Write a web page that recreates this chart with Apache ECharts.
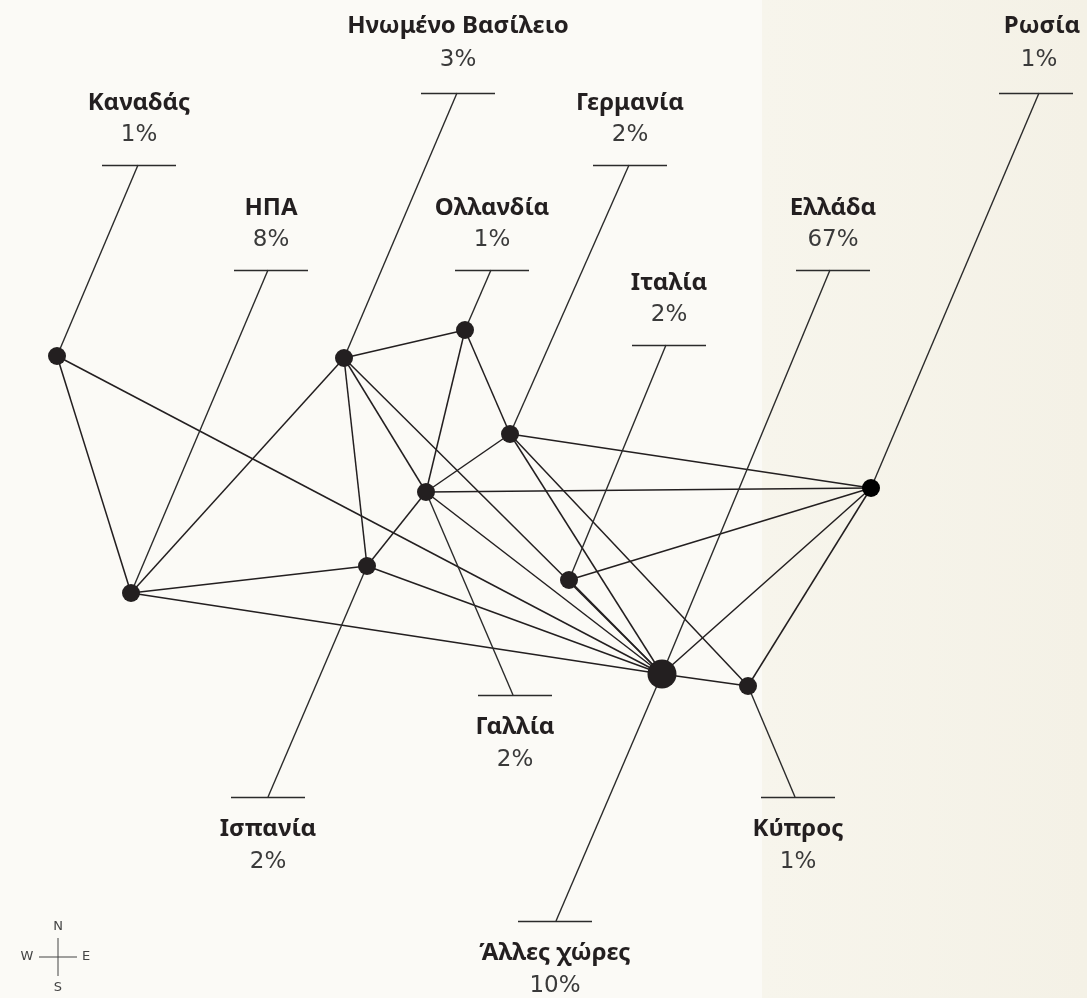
<!DOCTYPE html>
<html>
<head>
    <meta charset="utf-8">
    <title>network</title>
    <script src="https://cdn.jsdelivr.net/npm/echarts@6/dist/echarts.min.js"></script>
    <style>
        html, body { margin: 0; padding: 0; background: #fbfaf6; }
        #main { width: 1087px; height: 998px; }
    </style>
</head>
<body>
<div id="main"></div>
<script>
    // countries and their share
    var countries = ['Ηνωμένο Βασίλειο', 'Καναδάς', 'Γερμανία', 'ΗΠΑ', 'Ολλανδία', 'Ελλάδα',
        'Ιταλία', 'Ρωσία', 'Γαλλία', 'Ισπανία', 'Κύπρος', 'Άλλες χώρες'];
    var shares = [3, 1, 2, 8, 1, 67, 2, 1, 2, 2, 1, 10];

    // node of each country on the map (x, y) ; 'Άλλες χώρες' points to the Greek node
    var nodeX = [344, 57, 510, 131, 465, 662, 569, 871, 426, 367, 748, 662];
    var nodeY = [358, 356, 434, 593, 330, 674, 580, 488, 492, 566, 686, 674];

    // label bar of each country : bar y, bar centre x, where the leader leaves the bar
    var barY = [93, 165, 165, 270, 270, 270, 345, 93, 695, 797, 797, 921];
    var barX = [458, 139, 630, 271, 492, 833, 669, 1036, 515, 268, 798, 555];
    var leaderX = [457, 138, 629, 268, 491, 830, 666, 1039, 513, 268, 795, 556];
    var below = [false, false, false, false, false, false, false, false, true, true, true, true];

    // links between countries
    var links = [
        ['Καναδάς', 'ΗΠΑ'], ['Καναδάς', 'Ελλάδα'],
        ['ΗΠΑ', 'Ηνωμένο Βασίλειο'], ['ΗΠΑ', 'Ισπανία'], ['ΗΠΑ', 'Ελλάδα'],
        ['Ηνωμένο Βασίλειο', 'Ολλανδία'], ['Ηνωμένο Βασίλειο', 'Ισπανία'],
        ['Ηνωμένο Βασίλειο', 'Γαλλία'], ['Ηνωμένο Βασίλειο', 'Ελλάδα'],
        ['Ολλανδία', 'Γαλλία'], ['Ολλανδία', 'Γερμανία'],
        ['Γερμανία', 'Γαλλία'], ['Γερμανία', 'Ρωσία'], ['Γερμανία', 'Ελλάδα'], ['Γερμανία', 'Κύπρος'],
        ['Γαλλία', 'Ισπανία'], ['Γαλλία', 'Ρωσία'], ['Γαλλία', 'Ελλάδα'],
        ['Ισπανία', 'Ελλάδα'],
        ['Ιταλία', 'Ρωσία'], ['Ιταλία', 'Ελλάδα'],
        ['Ρωσία', 'Ελλάδα'], ['Ρωσία', 'Κύπρος'],
        ['Ελλάδα', 'Κύπρος']
    ];

    var BAR_HALF = 37;
    var ink = '#231f20';

    function pos(name) {
        var i = countries.indexOf(name);
        return [nodeX[i], nodeY[i]];
    }

    var edgeData = links.map(function (l) {
        return { coords: [pos(l[0]), pos(l[1])] };
    });

    var leaderData = [];
    var barData = [];
    var nameData = [];
    var valueData = [];
    countries.forEach(function (c, i) {
        leaderData.push({ coords: [[leaderX[i], barY[i]], [nodeX[i], nodeY[i]]] });
        barData.push({ coords: [[barX[i] - BAR_HALF, barY[i]], [barX[i] + BAR_HALF, barY[i]]] });
        var topRow = barY[i] < 100;
        var ny = below[i] ? barY[i] + 32 : barY[i] - (topRow ? 67 : 62);
        var vy = below[i] ? barY[i] + 65 : barY[i] - (topRow ? 33 : 30);
        nameData.push({ value: [barX[i] + (c === 'Ρωσία' ? 6 : 0), ny], name: c });
        valueData.push({ value: [barX[i] + (c === 'Ρωσία' ? 3 : 0), vy], name: shares[i] + '%' });
    });

    var nodeData = [];
    countries.forEach(function (c, i) {
        if (c === 'Άλλες χώρες') return;
        nodeData.push({
            value: [nodeX[i], nodeY[i]],
            symbolSize: c === 'Ελλάδα' ? 29 : 18,
            itemStyle: { color: c === 'Ρωσία' ? '#000' : ink, opacity: 1 }
        });
    });

    var myChart = echarts.init(document.getElementById('main'));

    var option = {
        backgroundColor: '#fbfaf6',
        animation: false,
        grid: { left: 0, right: 0, top: 0, bottom: 0 },
        xAxis: { type: 'value', min: 0, max: 1087, show: false },
        yAxis: { type: 'value', min: 0, max: 998, inverse: true, show: false },
        graphic: [
            {
                type: 'rect', z: -10, silent: true,
                shape: { x: 762, y: 0, width: 325, height: 998 },
                style: {
                    fill: new echarts.graphic.LinearGradient(0, 0, 1, 0, [
                        { offset: 0, color: '#f7f5ec' },
                        { offset: 1, color: '#f4f1e6' }
                    ])
                }
            },
            // compass
            { type: 'line', shape: { x1: 39, y1: 957, x2: 77, y2: 957 }, style: { stroke: '#444', lineWidth: 1 } },
            { type: 'line', shape: { x1: 58, y1: 938, x2: 58, y2: 976 }, style: { stroke: '#444', lineWidth: 1 } },
            { type: 'text', x: 58, y: 927, style: { text: 'N', fill: '#444', font: '13px "DejaVu Sans"', align: 'center', verticalAlign: 'middle' } },
            { type: 'text', x: 27, y: 957, style: { text: 'W', fill: '#444', font: '13px "DejaVu Sans"', align: 'center', verticalAlign: 'middle' } },
            { type: 'text', x: 86, y: 957, style: { text: 'E', fill: '#444', font: '13px "DejaVu Sans"', align: 'center', verticalAlign: 'middle' } },
            { type: 'text', x: 58, y: 988, style: { text: 'S', fill: '#444', font: '13px "DejaVu Sans"', align: 'center', verticalAlign: 'middle' } }
        ],
        series: [
            {
                type: 'lines', coordinateSystem: 'cartesian2d', silent: true,
                lineStyle: { color: ink, width: 1.5, opacity: 1 },
                data: edgeData, z: 2
            },
            {
                type: 'lines', coordinateSystem: 'cartesian2d', silent: true,
                lineStyle: { color: '#2b2b2b', width: 1.4, opacity: 1 },
                data: leaderData, z: 2
            },
            {
                type: 'lines', coordinateSystem: 'cartesian2d', silent: true,
                lineStyle: { color: '#2b2b2b', width: 1.4, opacity: 1 },
                data: barData, z: 2
            },
            {
                type: 'scatter', silent: true, z: 5,
                data: nodeData
            },
            {
                type: 'scatter', silent: true, symbolSize: 0,
                itemStyle: { opacity: 1 },
                data: nameData,
                label: {
                    show: true, position: 'inside', formatter: '{b}',
                    color: ink, fontFamily: 'Noto Sans', fontWeight: 'bold', fontSize: 24
                }
            },
            {
                type: 'scatter', silent: true, symbolSize: 0,
                itemStyle: { opacity: 1 },
                data: valueData,
                label: {
                    show: true, position: 'inside', formatter: '{b}',
                    color: '#3a3a3a', fontFamily: 'DejaVu Sans', fontWeight: 'normal', fontSize: 23
                }
            }
        ]
    };

    myChart.setOption(option);
</script>
</body>
</html>
